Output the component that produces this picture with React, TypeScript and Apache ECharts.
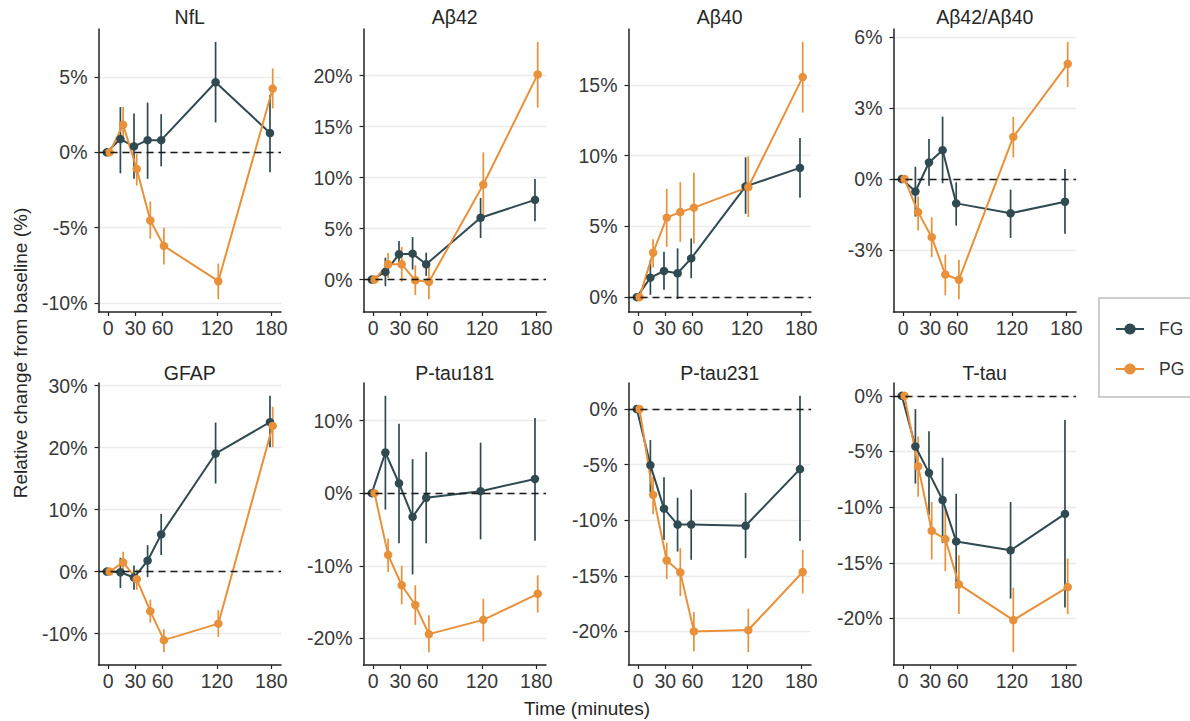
import React, { useEffect, useRef } from 'react';
import * as echarts from 'echarts';

// ---------- data ----------
const timePoints = [0, 15, 30, 45, 60, 120, 180];
const xTickValues = [0, 30, 60, 120, 180];
const groupNames = ['FG', 'PG'];
const panelTitles = ['NfL', 'Aβ42', 'Aβ40', 'Aβ42/Aβ40', 'GFAP', 'P-tau181', 'P-tau231', 'T-tau'];

// NfL
const nflFG = [0, 0.88, 0.4, 0.81, 0.81, 4.65, 1.28];
const nflFGLo = [0, -1.39, -1.76, -1.76, -0.93, 1.98, -1.32];
const nflFGHi = [0, 3.0, 2.58, 3.3, 2.53, 7.33, 3.81];
const nflPG = [0, 1.83, -1.1, -4.52, -6.21, -8.55, 4.23];
const nflPGLo = [0, 0.7, -2.2, -5.73, -7.44, -9.74, 2.91];
const nflPGHi = [0, 3.0, -0.11, -3.26, -5.0, -7.38, 5.57];
const nflTicks = [-10, -5, 0, 5];

// Aβ42
const ab42FG = [0, 0.75, 2.48, 2.54, 1.5, 6.06, 7.82];
const ab42FGLo = [0, -0.65, 1.24, 0.98, 0.36, 4.07, 5.73];
const ab42FGHi = [0, 2.15, 3.78, 4.17, 2.64, 8.01, 9.87];
const ab42PG = [0, 1.5, 1.5, -0.07, -0.23, 9.32, 20.13];
const ab42PGLo = [0, 0.16, -0.23, -1.53, -1.92, 6.12, 16.87];
const ab42PGHi = [0, 2.6, 3.2, 1.4, 1.4, 12.48, 23.32];
const ab42Ticks = [0, 5, 10, 15, 20];

// Aβ40
const ab40FG = [0, 1.38, 1.85, 1.69, 2.74, 7.83, 9.14];
const ab40FGLo = [0, 0.16, 0.52, -0.14, 1.34, 5.9, 7.03];
const ab40FGHi = [0, 2.62, 3.21, 3.45, 4.15, 9.89, 11.25];
const ab40PG = [0, 3.14, 5.62, 6.02, 6.33, 7.78, 15.56];
const ab40PGLo = [0, 2.1, 3.56, 3.91, 3.8, 5.67, 13.05];
const ab40PGHi = [0, 4.1, 7.66, 8.13, 8.79, 9.96, 18.05];
const ab40Ticks = [0, 5, 10, 15];

// Aβ42/Aβ40
const ratioFG = [0, -0.53, 0.7, 1.22, -1.03, -1.45, -0.96];
const ratioFGLo = [0, -1.59, -0.28, -0.18, -1.97, -2.49, -2.32];
const ratioFGHi = [0, 0.52, 1.69, 2.64, -0.14, -0.45, 0.42];
const ratioPG = [0, -1.4, -2.46, -4.04, -4.26, 1.78, 4.87];
const ratioPGLo = [0, -2.18, -3.3, -4.92, -5.08, 0.91, 3.89];
const ratioPGHi = [0, -0.74, -1.62, -3.2, -3.41, 2.63, 5.8];
const ratioTicks = [-3, 0, 3, 6];

// GFAP
const gfapFG = [0, -0.1, -0.96, 1.76, 6.0, 19.04, 24.1];
const gfapFGLo = [0, -2.66, -2.93, -0.9, 2.66, 14.2, 20.05];
const gfapFGHi = [0, 2.23, 1.0, 4.26, 9.3, 24.04, 28.35];
const gfapPG = [0, 1.49, -1.22, -6.38, -11.06, -8.4, 23.5];
const gfapPGLo = [0, -0.1, -2.93, -8.24, -13.0, -10.53, 20.05];
const gfapPGHi = [0, 3.19, 0.37, -4.52, -9.3, -6.22, 26.6];
const gfapTicks = [-10, 0, 10, 20, 30];

// P-tau181
const pt181FG = [0, 5.59, 1.36, -3.27, -0.64, 0.27, 1.95];
const pt181FGLo = [0, -2.27, -6.9, -11.2, -6.9, -6.36, -6.55];
const pt181FGHi = [0, 13.4, 9.55, 4.68, 5.68, 6.95, 10.36];
const pt181PG = [0, -8.5, -12.68, -15.4, -19.41, -17.45, -13.86];
const pt181PGLo = [0, -10.86, -15.32, -18.14, -21.9, -20.4, -16.45];
const pt181PGHi = [0, -6.23, -10.0, -12.68, -16.82, -14.55, -11.32];
const pt181Ticks = [-20, -10, 0, 10];

// P-tau231
const pt231FG = [0, -5.04, -8.96, -10.39, -10.39, -10.5, -5.4];
const pt231FGLo = [0, -7.48, -11.78, -12.82, -13.56, -13.41, -11.87];
const pt231FGHi = [0, -2.79, -6.14, -7.98, -7.24, -7.54, 1.19];
const pt231PG = [0, -7.72, -13.62, -14.69, -20.0, -19.88, -14.66];
const pt231PGLo = [0, -9.47, -15.28, -16.82, -21.78, -21.87, -16.59];
const pt231PGHi = [0, -6.08, -12.02, -12.52, -18.25, -17.95, -12.67];
const pt231Ticks = [-20, -15, -10, -5, 0];

// T-tau
const ttauFG = [0, -4.55, -6.92, -9.36, -13.08, -13.88, -10.61];
const ttauFGLo = [0, -7.88, -10.7, -13.22, -17.3, -18.22, -19.02];
const ttauFGHi = [0, -1.19, -3.18, -5.56, -8.8, -9.54, -2.17];
const ttauPG = [0, -6.33, -12.13, -12.87, -16.94, -20.15, -17.18];
const ttauPGLo = [0, -9.06, -14.7, -15.75, -19.61, -23.03, -19.61];
const ttauPGHi = [0, -3.66, -9.54, -10.1, -14.32, -17.24, -14.62];
const ttauTicks = [-20, -15, -10, -5, 0];

const panels = [
  { fg: [nflFG, nflFGLo, nflFGHi], pg: [nflPG, nflPGLo, nflPGHi], ticks: nflTicks },
  { fg: [ab42FG, ab42FGLo, ab42FGHi], pg: [ab42PG, ab42PGLo, ab42PGHi], ticks: ab42Ticks },
  { fg: [ab40FG, ab40FGLo, ab40FGHi], pg: [ab40PG, ab40PGLo, ab40PGHi], ticks: ab40Ticks },
  { fg: [ratioFG, ratioFGLo, ratioFGHi], pg: [ratioPG, ratioPGLo, ratioPGHi], ticks: ratioTicks },
  { fg: [gfapFG, gfapFGLo, gfapFGHi], pg: [gfapPG, gfapPGLo, gfapPGHi], ticks: gfapTicks },
  { fg: [pt181FG, pt181FGLo, pt181FGHi], pg: [pt181PG, pt181PGLo, pt181PGHi], ticks: pt181Ticks },
  { fg: [pt231FG, pt231FGLo, pt231FGHi], pg: [pt231PG, pt231PGLo, pt231PGHi], ticks: pt231Ticks },
  { fg: [ttauFG, ttauFGLo, ttauFGHi], pg: [ttauPG, ttauPGLo, ttauPGHi], ticks: ttauTicks },
];

// ---------- styling / layout ----------
const FONT = 'Liberation Sans, Arial, sans-serif';
const COLORS = ['#2f4a50', '#e8913a'];
const DODGE = [-1.5, 1.5];
const COL_LEFT = [98.5, 363.5, 628.5, 893.5];
const GRID_W = 182.5;
const ROW_TOP = [29, 383];
const GRID_H = [283, 282];
const TITLE_Y = [17, 373];
const AXIS_COLOR = '#222';
const LABEL_COLOR = '#383838';
const TICK_FONT = 19.5;

function buildOption() {
  const grids: any[] = [];
  const xAxes: any[] = [];
  const yAxes: any[] = [];
  const lineSeries: any[] = [];
  const errSeries: any[] = [];
  const graphics: any[] = [];

  // x-range with ggplot-like 5% expansion
  const xs = timePoints.flatMap((t) => DODGE.map((d) => t + d));
  const xMinD = Math.min(...xs);
  const xMaxD = Math.max(...xs);
  const xPad = (xMaxD - xMinD) * 0.05;

  panels.forEach((p, i) => {
    const row = Math.floor(i / 4);
    const col = i % 4;
    const left = COL_LEFT[col];
    const top = ROW_TOP[row];
    grids.push({ left, top, width: GRID_W, height: GRID_H[row], containLabel: false });

    const allY = [...p.fg[1], ...p.fg[2], ...p.pg[1], ...p.pg[2], 0];
    const yMinD = Math.min(...allY);
    const yMaxD = Math.max(...allY);
    const yPad = (yMaxD - yMinD) * 0.05;

    xAxes.push({
      gridIndex: i,
      type: 'value',
      min: xMinD - xPad,
      max: xMaxD + xPad,
      axisLine: { show: true, onZero: false, lineStyle: { color: AXIS_COLOR, width: 1.5 } },
      axisTick: { show: true, length: 4, customValues: xTickValues, lineStyle: { color: AXIS_COLOR, width: 1.2 } },
      axisLabel: {
        customValues: xTickValues,
        fontSize: TICK_FONT,
        color: LABEL_COLOR,
        fontFamily: FONT,
        margin: 6,
        hideOverlap: false,
      },
      splitLine: { show: false },
    });
    yAxes.push({
      gridIndex: i,
      type: 'value',
      min: yMinD - yPad,
      max: yMaxD + yPad,
      axisLine: { show: true, onZero: false, lineStyle: { color: AXIS_COLOR, width: 1.5 } },
      axisTick: { show: true, length: 4, customValues: p.ticks, lineStyle: { color: AXIS_COLOR, width: 1.2 } },
      axisLabel: {
        customValues: p.ticks,
        formatter: (v: number) => `${v}%`,
        fontSize: TICK_FONT,
        color: LABEL_COLOR,
        fontFamily: FONT,
        margin: 11,
      },
      splitLine: { show: true, lineStyle: { color: '#ebebeb', width: 1.3 } },
    });

    [p.fg, p.pg].forEach((g, gi) => {
      const [mean, lo, hi] = g;
      lineSeries.push({
        type: 'line',
        name: groupNames[gi],
        xAxisIndex: i,
        yAxisIndex: i,
        data: timePoints.map((t, k) => [t + DODGE[gi], mean[k]]),
        symbol: 'circle',
        symbolSize: 8.5,
        color: COLORS[gi],
        lineStyle: { width: 2, color: COLORS[gi] },
        itemStyle: { color: COLORS[gi] },
        z: 3,
        silent: true,
      });
      const err: any = {
        type: 'custom',
        name: groupNames[gi],
        xAxisIndex: i,
        yAxisIndex: i,
        data: timePoints.map((t, k) => [t + DODGE[gi], lo[k], hi[k]]),
        encode: { x: 0, y: [1, 2] },
        z: 2,
        silent: true,
        renderItem: (params: any, api: any) => {
          const a = api.coord([api.value(0), api.value(1)]);
          const b = api.coord([api.value(0), api.value(2)]);
          return {
            type: 'line',
            shape: { x1: a[0], y1: a[1], x2: b[0], y2: b[1] },
            style: { stroke: COLORS[gi], lineWidth: 1.7 },
          };
        },
      };
      if (gi === 0) {
        err.markLine = {
          silent: true,
          symbol: 'none',
          label: { show: false },
          lineStyle: { type: [7, 5], color: '#1a1a1a', width: 1.4 },
          data: [{ yAxis: 0 }],
          animation: false,
        };
      }
      errSeries.push(err);
    });

    graphics.push({
      type: 'text',
      x: left + GRID_W / 2,
      y: TITLE_Y[row],
      style: {
        text: panelTitles[i],
        fontSize: 19.5,
        fontFamily: FONT,
        fill: '#262626',
        textAlign: 'center',
        textVerticalAlign: 'middle',
      },
    });
  });

  graphics.push({
    type: 'text',
    x: 20,
    y: 353,
    rotation: Math.PI / 2,
    style: {
      text: 'Relative change from baseline (%)',
      fontSize: 19,
      fontFamily: FONT,
      fill: '#262626',
      textAlign: 'center',
      textVerticalAlign: 'middle',
    },
  });
  graphics.push({
    type: 'text',
    x: 587,
    y: 708,
    style: {
      text: 'Time (minutes)',
      fontSize: 19,
      fontFamily: FONT,
      fill: '#262626',
      textAlign: 'center',
      textVerticalAlign: 'middle',
    },
  });

  return {
    animation: false,
    backgroundColor: '#ffffff',
    grid: grids,
    xAxis: xAxes,
    yAxis: yAxes,
    legend: {
      data: groupNames,
      orient: 'vertical',
      left: 1099,
      top: 298,
      itemWidth: 28,
      itemHeight: 14,
      itemGap: 22,
      padding: [22, 60, 19, 16],
      borderColor: '#bdbdbd',
      borderWidth: 1.5,
      textStyle: { fontSize: 17.5, color: '#333', fontFamily: FONT, padding: [0, 0, 0, 10] },
      selectedMode: false,
    },
    series: [...lineSeries, ...errSeries],
    graphic: graphics,
  };
}

export default function App() {
  const ref = useRef<HTMLDivElement>(null);
  useEffect(() => {
    document.body.style.margin = '0';
    if (!ref.current) return;
    const chart = echarts.init(ref.current, undefined, { renderer: 'svg' });
    chart.setOption(buildOption() as any);
    return () => chart.dispose();
  }, []);
  return <div ref={ref} style={{ width: 1190, height: 721 }} />;
}
